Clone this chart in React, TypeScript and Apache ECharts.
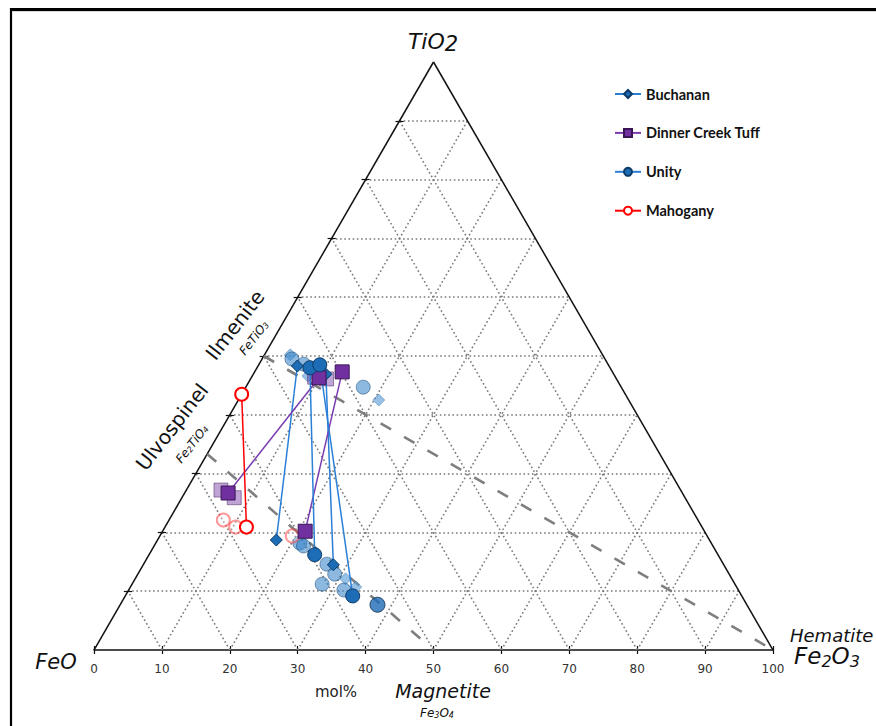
import React, { useEffect, useRef } from 'react';
import * as echarts from 'echarts';

// Compositions in mol%: [Fe2O3, TiO2] (FeO = remainder)
const buchananPairs = [
  [[17.5, 18.7], [5.8, 48.3]],
  [[28.0, 14.5], [10.7, 46.9]],
];
const buchananFaded = [[3.8, 50.2], [8.2, 46.6], [20.7, 42.5], [31.0, 12.1], [33.2, 10.7]];

const dinnerPairs = [
  [[6.4, 26.7], [10.0, 46.3]],
  [[21.0, 20.2], [12.9, 47.3]],
];
const dinnerFaded = [[5.1, 27.2], [7.7, 25.9], [11.2, 46.1], [9.3, 46.4]];

const unityPairs = [
  [[24.4, 16.2], [7.8, 48.0]],
  [[33.5, 9.2], [9.0, 48.5]],
];
const unitySingle = [[37.9, 7.7]];
const unityFaded = [[4.4, 49.5], [6.6, 48.6], [17.3, 44.7], [21.2, 18.2], [22.0, 17.7], [27.0, 14.6], [29.0, 12.9], [28.0, 11.2], [31.7, 10.2]];

const mahoganyPairs = [[[0, 43.5], [12.0, 20.9]]];
const mahoganyFaded = [[8.0, 22.1], [10.4, 20.9], [19.5, 19.4]];

const gridSteps = [10, 20, 30, 40, 50, 60, 70, 80, 90];
// Reference joins: [start, end] in [Fe2O3, TiO2]
const ilmeniteHematite = [[0, 50], [100, 0]];
const ulvospinelMagnetite = [[0, 100 / 3], [50, 0]];

const legendNames = ['Buchanan', 'Dinner Creek Tuff', 'Unity', 'Mahogany'];

const H = Math.sqrt(3) / 2;
const xy = (p: number[]) => [p[0] + p[1] / 2, p[1] * H];

const BLUE_LINE = '#2A80D6';
const BLUE = '#1D6CB6';
const BLUE_BORDER = '#0D3A66';
const PURPLE = '#7030A0';
const PURPLE_BORDER = '#3A1656';
const RED = '#FF0000';
const FONT = 'DejaVu Sans';

function buildOption() {
  const series: any[] = [];

  // ternary grid (dotted)
  const gridLines: any[] = [];
  gridSteps.forEach((k) => {
    gridLines.push({ coords: [xy([0, k]), xy([100 - k, k])] }); // const TiO2
    gridLines.push({ coords: [xy([k, 0]), xy([k, 100 - k])] }); // const Fe2O3
    gridLines.push({ coords: [xy([100 - k, 0]), xy([0, 100 - k])] }); // const FeO
  });
  series.push({
    type: 'lines', coordinateSystem: 'cartesian2d', silent: true, z: 1, clip: false,
    lineStyle: { color: '#7a7a7a', width: 1.6, type: [1.6, 2.6], opacity: 1 },
    data: gridLines,
  });
  // triangle sides
  series.push({
    type: 'lines', coordinateSystem: 'cartesian2d', silent: true, z: 2, clip: false,
    lineStyle: { color: '#111', width: 1.5, opacity: 1 },
    data: [
      { coords: [xy([0, 0]), xy([0, 100])] },
      { coords: [xy([100, 0]), xy([0, 100])] },
    ],
  });
  // left edge ticks
  series.push({
    type: 'lines', coordinateSystem: 'cartesian2d', silent: true, z: 2, clip: false,
    lineStyle: { color: '#111', width: 1.2, opacity: 1 },
    data: gridSteps.map((k) => {
      const p = xy([0, k]);
      return { coords: [[p[0] - 0.6, p[1]], [p[0] + 0.6, p[1]]] };
    }),
  });
  // dashed joins
  series.push({
    type: 'lines', coordinateSystem: 'cartesian2d', silent: true, z: 2, clip: false,
    lineStyle: { color: '#7f7f7f', width: 2.6, type: [12, 15], opacity: 1 },
    data: [
      { coords: ilmeniteHematite.map(xy) },
      { coords: ulvospinelMagnetite.map(xy) },
    ],
  });

  // faded (unpaired) points
  const faded = (name: string, data: number[][], symbol: string, size: number, color: string, border: string, z = 3) => ({
    type: 'scatter', name, data: data.map(xy), symbol, symbolSize: size, z, silent: true,
    itemStyle: { color, borderColor: border, borderWidth: 1 },
  });

  // paired tie lines
  const pairs = (name: string, list: number[][][], symbol: string, size: number, lineColor: string, color: string, border: string, bw = 1) =>
    list.map((pr) => ({
      type: 'line', name, data: pr.map(xy), symbol, symbolSize: size, z: 5, silent: true,
      showAllSymbol: true,
      lineStyle: { color: lineColor, width: 1.5 },
      itemStyle: { color, borderColor: border, borderWidth: bw, opacity: 1 },
    }));

  series.push(...pairs('Buchanan', buchananPairs, 'diamond', 12, BLUE_LINE, BLUE, BLUE_BORDER));
  series.push(...pairs('Dinner Creek Tuff', dinnerPairs, 'rect', 14, '#7A3DB0', PURPLE, PURPLE_BORDER));
  series.push(...pairs('Unity', unityPairs, 'circle', 14, BLUE_LINE, BLUE, BLUE_BORDER));
  series.push(...pairs('Mahogany', mahoganyPairs, 'emptyCircle', 13, RED, RED, RED, 2));

  series.push(faded('Buchanan', buchananFaded, 'diamond', 12, 'rgba(92,158,218,0.8)', 'rgba(40,100,160,0.5)'));
  series.push(faded('Dinner Creek Tuff', dinnerFaded, 'rect', 14, 'rgba(112,48,160,0.55)', 'rgba(58,22,86,0.6)'));
  series.push(faded('Unity', unityFaded, 'circle', 14, 'rgba(52,128,200,0.7)', 'rgba(13,58,102,0.6)'));
  series.push(faded('Unity', unitySingle, 'circle', 15, BLUE, '#0A2A4A', 6));
  series.push({
    type: 'scatter', name: 'Mahogany', data: mahoganyFaded.map(xy), symbol: 'circle', symbolSize: 13, z: 3, silent: true,
    itemStyle: { color: 'rgba(255,255,255,0.3)', borderColor: 'rgba(255,40,40,0.6)', borderWidth: 2 },
  });

  const it = { fontFamily: FONT, fontStyle: 'italic', fill: '#111' };
  const graphic: any[] = [
    { type: 'line', shape: { x1: 11, y1: 8, x2: 11, y2: 726 }, style: { stroke: '#000', lineWidth: 2.2 } },
    { type: 'line', shape: { x1: 10, y1: 9.5, x2: 876, y2: 9.5 }, style: { stroke: '#000', lineWidth: 3 } },
    { type: 'line', shape: { x1: 12, y1: 11.5, x2: 876, y2: 11.5 }, style: { stroke: '#d8d8d8', lineWidth: 1 } },
    {
      type: 'text', x: 433, y: 41,
      style: {
        text: '{a|TiO}{b|2}', align: 'center', verticalAlign: 'middle',
        rich: { a: { ...it, fontSize: 22 }, b: { ...it, fontSize: 21, padding: [6, 0, 0, 0] } },
      },
    },
    { type: 'text', x: 56, y: 662, style: { ...it, text: 'FeO', fontSize: 21, align: 'center', verticalAlign: 'middle' } },
    { type: 'text', x: 790, y: 635, style: { ...it, text: 'Hematite', fontSize: 18, align: 'left', verticalAlign: 'middle' } },
    {
      type: 'text', x: 794, y: 656,
      style: {
        text: '{a|Fe}{s|2}{a|O}{s|3}', align: 'left', verticalAlign: 'middle',
        rich: { a: { ...it, fontSize: 23 }, s: { ...it, fontSize: 16, padding: [10, 0, 0, 0] } },
      },
    },
    { type: 'text', x: 443, y: 691, style: { ...it, text: 'Magnetite', fontSize: 19, align: 'center', verticalAlign: 'middle' } },
    {
      type: 'text', x: 437, y: 713,
      style: {
        text: '{a|Fe}{s|3}{a|O}{s|4}', align: 'center', verticalAlign: 'middle',
        rich: { a: { ...it, fontSize: 12 }, s: { ...it, fontSize: 8, padding: [4, 0, 0, 0] } },
      },
    },
    { type: 'text', x: 336, y: 692, style: { text: 'mol%', fontFamily: FONT, fontSize: 15, fill: '#222', align: 'center', verticalAlign: 'middle' } },
    {
      type: 'text', x: 235, y: 325, rotation: (52 * Math.PI) / 180,
      style: { ...it, fontStyle: 'normal', text: 'Ilmenite', fontSize: 20, align: 'center', verticalAlign: 'middle' },
    },
    {
      type: 'text', x: 254, y: 338, rotation: (52 * Math.PI) / 180,
      style: {
        text: '{a|FeTiO}{s|3}', align: 'center', verticalAlign: 'middle',
        rich: { a: { ...it, fontSize: 12 }, s: { ...it, fontSize: 8, padding: [4, 0, 0, 0] } },
      },
    },
    {
      type: 'text', x: 172, y: 427, rotation: (52 * Math.PI) / 180,
      style: { ...it, fontStyle: 'normal', text: 'Ulvospinel', fontSize: 20, align: 'center', verticalAlign: 'middle' },
    },
    {
      type: 'text', x: 192, y: 444, rotation: (52 * Math.PI) / 180,
      style: {
        text: '{a|Fe}{s|2}{a|TiO}{s|4}', align: 'center', verticalAlign: 'middle',
        rich: { a: { ...it, fontSize: 12 }, s: { ...it, fontSize: 8, padding: [4, 0, 0, 0] } },
      },
    },
  ];

  return {
    animation: false,
    backgroundColor: '#fff',
    grid: { left: 94, top: 62, width: 679, height: 588 },
    legend: {
      data: legendNames,
      orient: 'vertical', left: 614, top: 86.5, padding: 0, itemWidth: 26, itemHeight: 10, itemGap: 23.9,
      selectedMode: false,
      textStyle: { fontFamily: 'Lato', fontWeight: 'bold', fontSize: 14.5, color: '#111' },
    },
    xAxis: [
      {
        type: 'value', min: 0, max: 100, interval: 10,
        axisLine: { show: true, lineStyle: { color: '#111', width: 1.5 } },
        axisTick: { show: true, length: 4, lineStyle: { color: '#111', width: 1.2 } },
        axisLabel: { margin: 13, fontFamily: FONT, fontSize: 12, color: '#333' },
        splitLine: { show: false },
      },
      {
        type: 'value', min: 0, max: 100, interval: 10, position: 'bottom',
        axisLine: { show: false },
        axisTick: { show: true, inside: true, length: 4, lineStyle: { color: '#111', width: 1.2 } },
        axisLabel: { show: false },
        splitLine: { show: false },
      },
    ],
    yAxis: { type: 'value', min: 0, max: 100 * H, show: false, splitLine: { show: false } },
    series,
    graphic,
  };
}

export default function App() {
  const ref = useRef<HTMLDivElement>(null);
  useEffect(() => {
    const chart = echarts.init(ref.current!, null, { renderer: 'svg' });
    chart.setOption(buildOption());
    return () => chart.dispose();
  }, []);
  return (
    <div
      ref={ref}
      style={{ position: 'fixed', left: 0, top: 0, width: 876, height: 726, background: '#fff' }}
    />
  );
}
